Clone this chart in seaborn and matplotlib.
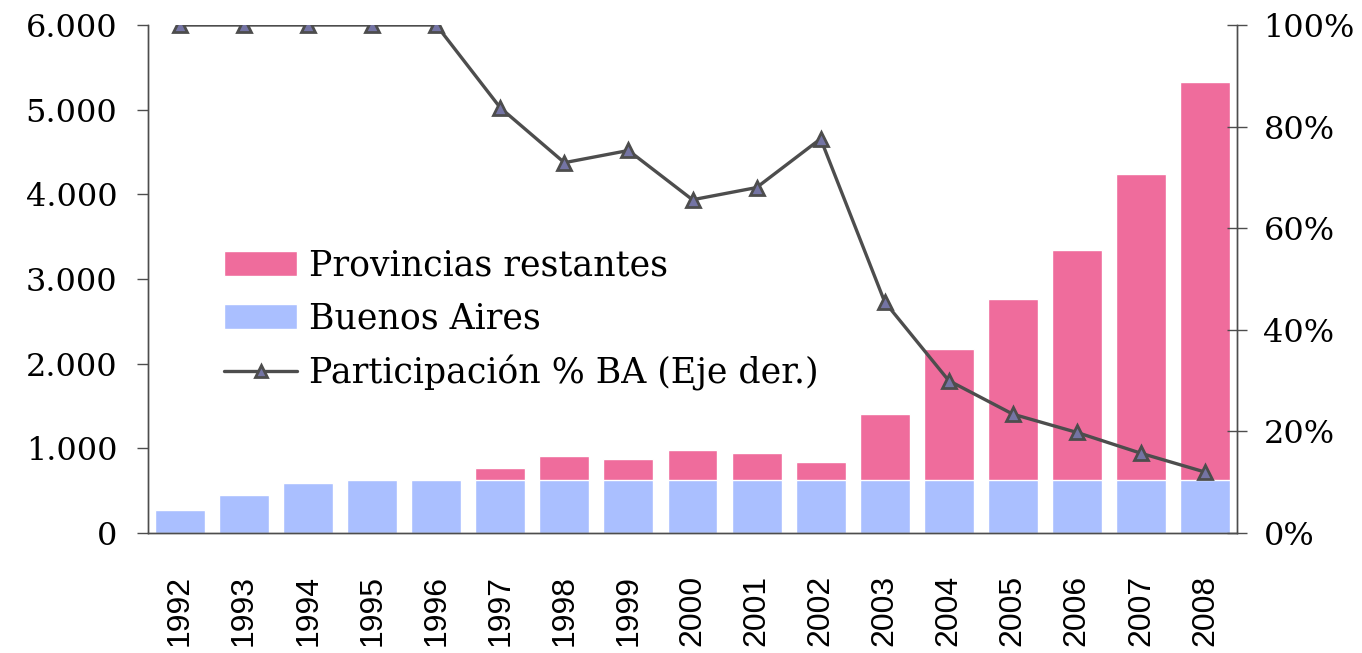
import numpy as np
import pandas as pd
import matplotlib
matplotlib.use('Agg')
import matplotlib.pyplot as plt
import seaborn as sns
from matplotlib.patches import Patch
from matplotlib.lines import Line2D
from matplotlib.ticker import FuncFormatter

# datos
anios = ['1992', '1993', '1994', '1995', '1996', '1997', '1998', '1999', '2000',
         '2001', '2002', '2003', '2004', '2005', '2006', '2007', '2008']
buenos_aires = [268, 446, 588, 622, 622, 625, 625, 625, 625,
                625, 625, 625, 625, 625, 625, 625, 625]
total = [268, 446, 588, 622, 622, 766, 909, 876, 975,
         945, 836, 1405, 2177, 2760, 3339, 4244, 5327]
participacion = [100, 100, 100, 100, 100, 83.7, 72.9, 75.3, 65.6,
                 68.0, 77.6, 45.5, 30.0, 23.4, 19.8, 15.7, 12.0]

rosa = '#EF6C9C'
azul = '#AABFFF'
gris = '#4D4D4D'

df = pd.DataFrame({'anio': anios, 'ba': buenos_aires, 'total': total, 'part': participacion})

sns.set_style('white')
plt.rcParams['font.family'] = ['DejaVu Serif']
plt.rcParams['text.color'] = 'black'

fig = plt.figure(figsize=(13.62, 6.53), dpi=100)
ax = fig.add_axes([148 / 1362, 1 - 533 / 653, (1237 - 148) / 1362, (533 - 25) / 653])

# barras apiladas: total (rosa) y encima Buenos Aires (azul)
sns.barplot(data=df, x='anio', y='total', color=rosa, width=0.78, saturation=1, ax=ax)
sns.barplot(data=df, x='anio', y='ba', color=azul, width=0.78, saturation=1, ax=ax)

ax.set_ylim(0, 6000)
ax.set_xlim(-0.5, len(anios) - 0.5)
ax.set_yticks(range(0, 6001, 1000))
ax.yaxis.set_major_formatter(FuncFormatter(lambda v, p: f'{int(v):,}'.replace(',', '.')))
ax.set_xlabel('')
ax.set_ylabel('')

# eje derecho
ax2 = ax.twinx()
sns.lineplot(x=np.arange(len(anios)), y=df['part'], ax=ax2, color=gris, linewidth=2.4,
             marker='^', markersize=10, markerfacecolor='#7474A4', markeredgecolor=gris,
             markeredgewidth=2)
ax2.set_ylim(0, 100)
ax2.set_yticks(range(0, 101, 20))
ax2.yaxis.set_major_formatter(FuncFormatter(lambda v, p: f'{int(v)}%'))
ax2.set_ylabel('')

# ticks del eje x entre categorias
ax.set_xticks(np.arange(len(anios)))
ax.set_xticklabels(anios, rotation=90, fontsize=23, family='Liberation Sans')
ax.set_xticks(np.arange(-0.5, len(anios)), minor=True)
ax.tick_params(axis='x', which='major', length=0, pad=30, labelcolor='black')
ax.tick_params(axis='x', which='minor', length=9, width=1, color=gris, direction='out')
ax.tick_params(axis='y', length=8, width=1, color=gris, direction='out', labelsize=23, pad=14,
               labelcolor='black')
ax2.tick_params(axis='y', length=14, width=1, color=gris, direction='inout', labelsize=23, pad=12,
                labelcolor='black')

for a in (ax, ax2):
    for s in a.spines.values():
        s.set_color(gris)
        s.set_linewidth(1)
    a.spines['top'].set_visible(False)

handles = [Patch(facecolor=rosa, label='Provincias restantes'),
           Patch(facecolor=azul, label='Buenos Aires'),
           Line2D([], [], color=gris, linewidth=2.4, marker='^', markersize=8,
                  markerfacecolor='#7474A4', markeredgecolor=gris, markeredgewidth=2,
                  label='Participación % BA (Eje der.)')]
ax2.legend(handles=handles, loc='upper left', bbox_to_anchor=(0.07, 0.56), frameon=False,
           handlelength=2.1, handletextpad=0.35, labelspacing=0.55,
           borderpad=0, borderaxespad=0, prop={'family': 'DejaVu Serif', 'size': 25})

fig.savefig('out.png', dpi=100)
